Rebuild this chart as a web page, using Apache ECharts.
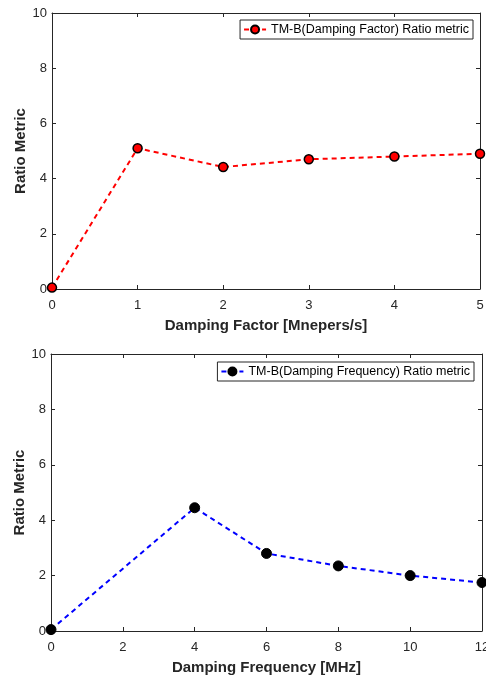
<!DOCTYPE html>
<html>
<head>
<meta charset="utf-8">
<script src="https://cdn.jsdelivr.net/npm/echarts@6/dist/echarts.min.js"></script>
<style>
   html, body { margin: 0; padding: 0; background: #fff; }
   #chart { width: 486px; height: 678px; }
</style>
</head>
<body>
<div id="chart"></div>
<script>

// top chart: damping factor
const factorX = [0, 1, 2, 3, 4, 5];
const factorY = [0.05, 5.1, 4.42, 4.7, 4.8, 4.9];
const factorName = 'TM-B(Damping Factor) Ratio metric';

// bottom chart: damping frequency
const freqX = [0, 4, 6, 8, 10, 12];
const freqY = [0.05, 4.45, 2.8, 2.35, 2.0, 1.75];
const freqName = 'TM-B(Damping Frequency) Ratio metric';

const font = "'Liberation Sans', Arial, sans-serif";
const axisCol = '#262626';

function pairs(xs, ys)
{
   var out = [];
   for (var i=0; i<xs.length; i++) out.push([xs[i], ys[i]]);
   return out;
}

function mainX(grid, max, interval, name)
{
   return {
      type: 'value', gridIndex: grid, min: 0, max: max, interval: interval,
      name: name, nameLocation: 'middle', nameGap: 29,
      nameTextStyle: { color: axisCol, fontWeight: 'bold', fontSize: 15, fontFamily: font },
      axisLine: { onZero: false, lineStyle: { color: axisCol, width: 1 } },
      axisTick: { inside: true, length: 4, lineStyle: { color: axisCol } },
      axisLabel: { color: axisCol, fontSize: 13, fontFamily: font, margin: 10 },
      splitLine: { show: false }
   };
}
// top edge of the box, ticks only
function boxX(grid, max, interval)
{
   return {
      type: 'value', gridIndex: grid, position: 'top', min: 0, max: max, interval: interval,
      axisLine: { show: true, onZero: false, lineStyle: { color: axisCol, width: 1 } },
      axisTick: { show: true, inside: true, length: 4, lineStyle: { color: axisCol } },
      axisLabel: { show: false }, splitLine: { show: false }
   };
}
function mainY(grid)
{
   return {
      type: 'value', gridIndex: grid, min: 0, max: 10, interval: 2,
      name: 'Ratio Metric', nameLocation: 'middle', nameGap: 24, nameMoveOverlap: false,
      nameTextStyle: { color: axisCol, fontWeight: 'bold', fontSize: 15, fontFamily: font },
      axisLine: { show: true, onZero: false, lineStyle: { color: axisCol, width: 1 } },
      axisTick: { show: true, inside: true, length: 4, lineStyle: { color: axisCol } },
      axisLabel: { color: axisCol, fontSize: 13, fontFamily: font, margin: 5 },
      splitLine: { show: false }
   };
}
// right edge of the box
function boxY(grid)
{
   return {
      type: 'value', gridIndex: grid, position: 'right', min: 0, max: 10, interval: 2,
      axisLine: { show: true, onZero: false, lineStyle: { color: axisCol, width: 1 } },
      axisTick: { show: true, inside: true, length: 4, lineStyle: { color: axisCol } },
      axisLabel: { show: false }, splitLine: { show: false }
   };
}

const legendBase = {
   orient: 'vertical',
   borderColor: axisCol, borderWidth: 1, borderRadius: 0,
   backgroundColor: '#fff',
   padding: [3, 4, 3, 3],
   itemWidth: 22, itemHeight: 10, itemGap: 4,
   textStyle: { color: '#000', fontSize: 12.5, fontFamily: font }
};

const chart = echarts.init(document.getElementById('chart'));
chart.setOption({
   animation: false,
   backgroundColor: '#fff',
   grid: [
      { left: 52, top: 13, width: 428, height: 276, outerBoundsMode: 'none', containLabel: false },
      { left: 51, top: 354, width: 431, height: 277, outerBoundsMode: 'none', containLabel: false }
   ],
   xAxis: [ mainX(0, 5, 1, 'Damping Factor [Mnepers/s]'), boxX(0, 5, 1),
            mainX(1, 12, 2, 'Damping Frequency [MHz]'), boxX(1, 12, 2) ],
   yAxis: [ mainY(0), boxY(0), mainY(1), boxY(1) ],
   legend: [
      Object.assign({}, legendBase, { data: [factorName], right: 13, top: 20 }),
      Object.assign({}, legendBase, { data: [freqName], right: 12, top: 362 })
   ],
   series: [
      {
         name: factorName, type: 'line', xAxisIndex: 0, yAxisIndex: 0,
         data: pairs(factorX, factorY),
         symbol: 'circle', symbolSize: 9,
         lineStyle: { color: '#ff0000', width: 2, type: [5, 4] },
         itemStyle: { color: '#ff0000', borderColor: '#000', borderWidth: 1.5 },
         clip: false
      },
      {
         name: freqName, type: 'line', xAxisIndex: 2, yAxisIndex: 2,
         data: pairs(freqX, freqY),
         symbol: 'circle', symbolSize: 10,
         lineStyle: { color: '#0000ff', width: 2, type: [5, 4] },
         itemStyle: { color: '#000', borderColor: '#000', borderWidth: 1 },
         clip: false
      }
   ]
});
</script>
</body>
</html>
